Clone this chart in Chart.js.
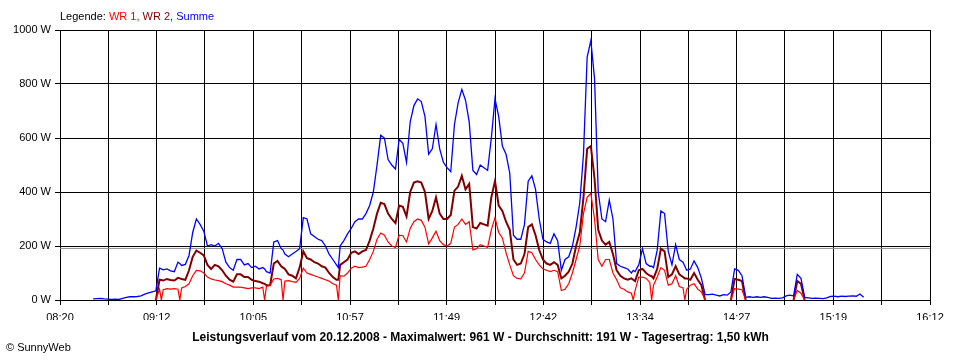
<!DOCTYPE html>
<html>
<head>
<meta charset="utf-8">
<script src="https://cdn.jsdelivr.net/npm/chart.js@4.4.1/dist/chart.umd.min.js"></script>
<style>
  body { margin: 0; background: #fff; }
  #wrap { position: relative; width: 960px; height: 360px; font-family: "Liberation Sans", Arial, sans-serif; font-size: 11px; color: #000; }
  #legend { position: absolute; left: 60px; top: 10px; white-space: nowrap; }
  #caption { position: absolute; left: 0; width: 961px; top: 330px; text-align: center; font-weight: bold; font-size: 12px; white-space: nowrap; }
  #copy { position: absolute; left: 6px; top: 341px; white-space: nowrap; }
  canvas { position: absolute; left: 0; top: 0; }
</style>
</head>
<body>
<div id="wrap">
  <canvas id="chart" width="960" height="360"></canvas>
  <div id="legend">Legende: <span style="color:#ff0000">WR 1,</span> <span style="color:#800000">WR 2,</span> <span style="color:#0000ff">Summe</span></div>
  <div id="caption">Leistungsverlauf vom 20.12.2008 - Maximalwert: 961 W - Durchschnitt: 191 W - Tagesertrag: 1,50 kWh</div>
  <div id="copy">© SunnyWeb</div>
</div>
<script>
// time in minutes after midnight
var times = [
  518,520,522,524,526,528,530,532,534,536,
  538,540,542,544,546,548,550,552,554,555,
  556,558,560,562,564,565,566,568,570,572,
  574,576,578,580,582,584,586,588,590,592,
  594,596,598,600,602,604,606,608,610,611,
  612,614,616,618,620,621,622,624,626,628,
  630,632,634,636,638,640,642,644,646,648,
  650,651,652,654,656,658,660,662,664,666,
  668,670,672,674,676,678,680,682,684,686,
  688,690,692,694,696,698,700,702,704,706,
  708,710,712,714,716,718,720,722,724,726,
  728,730,732,734,736,738,740,742,744,746,
  748,750,752,754,756,758,760,762,764,766,
  768,770,772,774,776,778,780,782,784,786,
  788,790,792,794,796,798,800,802,804,806,
  808,810,811,812,814,816,818,820,821,822,
  824,826,828,830,832,834,836,838,839,840,
  842,844,846,848,850,852,854,856,858,860,
  862,864,866,868,870,872,874,876,878,880,
  882,884,886,888,890,892,894,896,898,900,
  902,904,906,908,910,912,914,916,918,920,
  922,924,926,928,930,932,934,936
];

var summe = [
  4,5,6,4,3,2,3,2,6,10,
  12,12,13,15,22,26,30,34,118,115,
  112,115,108,105,140,135,128,132,165,250,
  300,280,255,200,205,200,210,190,140,120,
  110,150,150,130,135,120,125,115,120,115,
  105,100,215,220,190,185,170,160,170,180,
  190,305,300,245,235,225,220,200,170,150,
  130,120,200,220,245,265,290,300,300,320,
  350,400,500,610,600,520,500,485,595,580,
  510,660,720,745,735,680,540,560,650,560,
  510,490,475,650,730,780,740,660,480,465,
  500,490,480,600,745,680,570,540,470,240,
  225,225,280,440,460,410,300,225,215,210,
  245,220,110,150,160,200,270,360,540,900,
  961,820,400,300,290,370,300,135,125,120,
  115,100,110,105,130,190,135,125,125,120,
  185,330,320,180,130,205,150,140,125,110,
  115,145,120,80,20,20,22,18,15,20,
  18,30,115,110,90,10,12,10,12,10,
  12,10,6,7,6,8,15,18,15,95,
  80,10,8,6,7,6,5,8,13,14,
  12,14,13,14,15,14,22,10
];

var wr2 = [
  null,null,null,null,null,null,null,null,null,null,
  null,null,null,null,null,null,null,0,75,74,
  72,78,74,72,82,80,78,75,110,160,
  183,175,165,130,115,130,125,110,90,75,
  68,95,95,85,85,75,70,68,62,60,
  55,55,135,145,125,120,115,95,90,80,
  120,180,155,150,140,135,125,120,100,85,
  75,75,130,140,150,175,180,170,180,185,
  220,265,320,360,355,320,300,285,350,345,
  310,400,435,440,435,400,300,330,380,320,
  300,300,315,405,420,460,410,430,270,265,
  285,280,275,380,440,350,330,290,260,150,
  130,135,170,270,280,240,185,150,135,130,
  140,130,80,90,105,135,200,250,380,560,
  570,450,260,220,205,215,170,110,90,80,
  75,80,75,70,110,115,100,90,88,80,
  115,190,180,85,95,125,95,85,80,80,
  75,100,75,55,0,null,null,null,null,null,
  null,0,78,75,70,0,null,null,null,null,
  null,null,null,null,null,null,null,null,0,70,
  60,0,null,null,null,null,null,null,null,null,
  null,null,null,null,null,null,null,null
];

var wr1 = [
  null,null,null,null,null,null,null,null,null,null,
  null,null,null,null,null,null,null,0,40,0,
  38,42,40,42,40,0,45,50,60,90,
  110,108,100,85,78,74,72,68,60,55,
  48,48,48,45,42,45,45,42,48,0,
  50,55,78,80,75,0,70,72,68,65,
  80,118,100,95,90,85,80,75,70,60,
  55,0,90,88,100,118,125,120,122,125,
  150,180,225,248,240,215,200,195,240,238,
  215,265,290,300,295,270,208,230,255,220,
  205,200,210,270,280,300,280,290,185,190,
  205,200,195,260,305,250,230,175,130,90,
  80,78,100,180,175,150,130,115,110,105,
  110,105,35,40,60,100,150,200,320,380,
  395,300,150,125,150,150,100,75,45,40,
  30,25,0,35,85,85,80,65,0,55,
  85,120,110,55,60,90,50,45,0,40,
  55,60,40,30,0,null,null,null,null,null,
  null,0,42,40,38,0,null,null,null,null,
  null,null,null,null,null,null,null,null,0,35,
  25,0,null,null,null,null,null,null,null,null,
  null,null,null,null,null,null,null,null
];

var average = 191;
var xMin = 500, xMax = 972;
var xTickLabels = ['08:20', '09:12', '10:05', '10:57', '11:49', '12:42', '13:34', '14:27', '15:19', '16:12'];
var yTicks = [0, 200, 400, 600, 800, 1000];

function pts(values) {
    return times.map((t, i) => ({ x: t, y: values[i] }));
}

Chart.defaults.font.family = '"Liberation Sans", Arial, sans-serif';
Chart.defaults.font.size = 11;
Chart.defaults.color = '#000';

new Chart(document.getElementById('chart'), {
    type: 'line',
    data: {
        datasets: [
            { label: 'Summe', data: pts(summe), borderColor: '#0000ff', borderWidth: 1.3, order: 1 },
            { label: 'WR 1', data: pts(wr1), borderColor: '#ff0000', borderWidth: 1.2, order: 2 },
            { label: 'WR 2', data: pts(wr2), borderColor: '#800000', borderWidth: 2, order: 3 },
            { label: 'Durchschnitt', data: [{ x: xMin, y: average }, { x: xMax, y: average }], borderColor: '#909090', borderWidth: 1, order: 4 }
        ]
    },
    options: {
        responsive: false,
        animation: false,
        layout: { padding: { left: 0, right: 30, top: 30, bottom: 40 } },
        elements: {
            point: { radius: 0 },
            line: { tension: 0, borderJoinStyle: 'miter' }
        },
        plugins: {
            legend: { display: false },
            tooltip: { enabled: false }
        },
        scales: {
            x: {
                type: 'linear',
                min: xMin,
                max: xMax,
                afterBuildTicks: function (axis) {
                    var n = (xTickLabels.length - 1) * 2;
                    var ticks = [];
                    for (var i = 0; i <= n; i++) ticks.push({ value: xMin + i * (xMax - xMin) / n });
                    axis.ticks = ticks;
                },
                afterFit: function (axis) { axis.height = 20; },
                ticks: {
                    autoSkip: false,
                    maxRotation: 0,
                    padding: 6,
                    callback: function (v, i) { return i % 2 === 0 ? xTickLabels[i / 2] : ''; }
                },
                grid: { color: '#000', lineWidth: 1, tickLength: 5 },
                border: { color: '#000' }
            },
            y: {
                min: 0,
                max: 1000,
                afterBuildTicks: function (axis) {
                    axis.ticks = yTicks.map(v => ({ value: v }));
                },
                afterFit: function (axis) { axis.width = 60; },
                ticks: {
                    padding: 4,
                    callback: function (v) { return v + ' W'; }
                },
                grid: { color: '#000', lineWidth: 1, tickLength: 5 },
                border: { color: '#000' }
            }
        }
    }
});
</script>
</body>
</html>
